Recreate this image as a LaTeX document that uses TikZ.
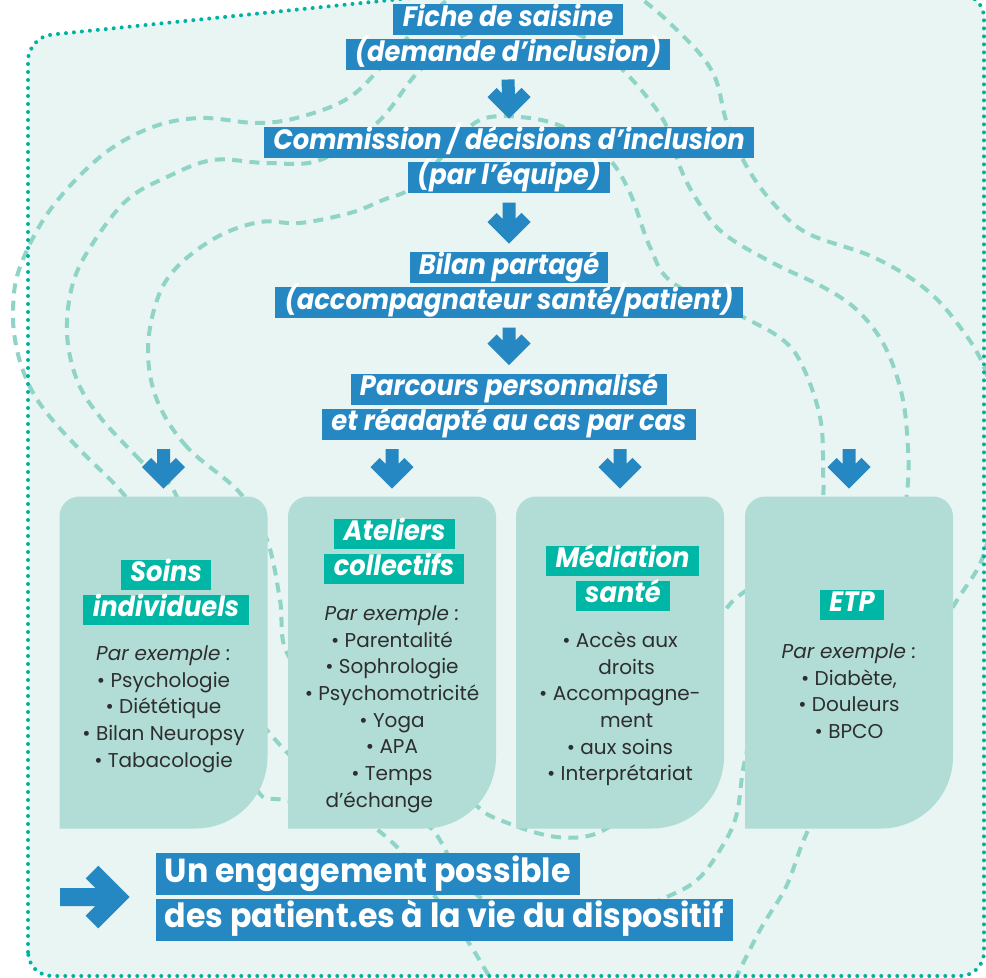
\documentclass[tikz,border=0pt]{standalone}
\usepackage{fontspec}
\setmainfont{Poppins}
\newfontfamily\labelfont[FakeStretch=0.92]{Poppins}
\newfontfamily\bannerfont[FakeStretch=0.95]{Poppins}
\usetikzlibrary{calc}

\definecolor{mintbg}{RGB}{232,245,242}
\definecolor{dotborder}{RGB}{0,178,160}
\definecolor{contourline}{RGB}{143,212,198}
\definecolor{boxfill}{RGB}{177,221,214}
\definecolor{labelblue}{RGB}{37,136,195}
\definecolor{titleteal}{RGB}{0,182,165}
\definecolor{bodytext}{RGB}{46,46,46}

\tikzset{every picture/.style={line width=0.75pt}}
\tikzset{
  bluelabel/.style={fill=labelblue, text=white, inner xsep=7pt, inner ysep=0pt,
    text height=15pt, text depth=5pt, minimum height=23.25pt,
    font=\labelfont\bfseries\itshape\fontsize{21}{21}\selectfont},
  tealtitle/.style={bluelabel, fill=titleteal, minimum height=22.5pt},
  cardarea/.style={inner sep=0pt, minimum width=155.25pt, minimum height=248.25pt},
  itemlist/.style={text=bodytext, align=center, font=\fontsize{15}{20}\selectfont},
  % shaft + chevron, target = node edge below
  downarrow/.style={draw=labelblue, line width=9.75pt, line join=miter, to path={
    ($(\tikztostart)+(0,9)$) -- ($(\tikztotarget)+(0,-17)$)
    ($(\tikztotarget)+(-17,-34)$) -- ($(\tikztotarget)+(0,-17)$) -- ($(\tikztotarget)+(17,-34)$)}},
  rightarrow/.style={draw=labelblue, line width=13.5pt, line join=miter, to path={
    (\tikztostart) -- ($(\tikztotarget)+(-38,0)$)
    ($(\tikztotarget)+(-63,-25)$) -- ($(\tikztotarget)+(-38,0)$) -- ($(\tikztotarget)+(-63,25)$)}},
  bannerlabel/.style={fill=labelblue, text=white, anchor=west, inner xsep=7pt, inner ysep=0pt,
    text height=18pt, text depth=5.5pt, minimum height=31.5pt,
    font=\bannerfont\bfseries\fontsize{25}{25}\selectfont},
  contour/.style={contourline, line width=3pt, dash pattern=on 7.5pt off 5.5pt}
}

\begin{document}
\begin{tikzpicture}[x=0.75pt,y=0.75pt,yscale=-1,xscale=1]
  %page
  \fill[white] (0,0) rectangle (986,978);
  \useasboundingbox (0,0) rectangle (986,978);

  %Shape: background
  \fill[mintbg, rounded corners=18]
    (28,976) -- (28,37) -- (450,-6) -- (984,-6) -- (984,976) -- cycle;

  %Curves: dashed contours
  \draw[contour] plot[smooth, tension=0.6] coordinates {(497,990) (467,940) (430,890) (395,845) (340,800) (280,745) (240,690) (200,600) (150,530) (120,490) (83,453) (50,417) (30,387) (17,350) (13,310) (20,267) (50,210) (100,157) (150,128) (200,118) (257,123) (300,117) (350,97) (390,57) (430,15) (480,-20) (560,-35) (630,-8) (680,33) (713,73) (727,123) (747,167) (773,203) (807,233) (873,257) (923,287) (957,323) (985,370) (998,440) (986,547) (953,607) (900,700) (830,790) (805,837) (786,887) (760,930) (730,990)};
  \draw[contour] plot[smooth cycle, tension=0.6] coordinates {(177,497) (140,460) (100,417) (77,380) (67,333) (73,283) (93,243) (127,200) (167,177) (213,160) (267,163) (320,160) (377,123) (420,70) (470,32) (530,20) (590,40) (620,67) (647,97) (667,127) (680,167) (697,200) (723,233) (773,263) (823,287) (857,310) (883,343) (900,387) (907,433) (907,493) (890,580) (840,650) (765,700) (745,760) (737,813) (723,845) (697,880) (660,900) (600,925) (520,920) (460,880) (443,845) (420,822) (350,810) (283,800) (257,790) (230,720) (200,600)};
  \draw[contour] plot[smooth cycle, tension=0.6] coordinates {(240,493) (187,447) (157,400) (148,350) (157,300) (177,267) (217,237) (260,222) (300,223) (350,213) (383,200) (413,187) (450,148) (480,120) (520,117) (563,127) (607,157) (630,193) (650,247) (673,283) (743,317) (783,340) (803,367) (820,417) (823,467) (820,510) (790,565) (747,590) (723,613) (680,680) (640,790) (604,830) (557,837) (500,820) (473,803) (400,740) (330,700) (287,653) (280,600) (267,540)};

  %Shape: dotted border
  \draw[dotborder, line width=3pt, line cap=round, dash pattern=on 0pt off 6pt, rounded corners=18]
    (28,976) -- (28,37) -- (450,-6) -- (984,-6) -- (984,976) -- cycle;

  %Shapes: cards
  \node[cardarea] (soins) at (163.5,662.5) {};
  \node[cardarea] (ateliers) at (392,662.5) {};
  \node[cardarea] (mediation) at (620,662.5) {};
  \node[cardarea] (etp) at (849,662.5) {};
  \foreach \card in {soins,ateliers,mediation,etp}
    \fill[boxfill] (\card.south west) -- ($(\card.north west)+(0,20)$)
      arc[start angle=180, end angle=270, radius=20] -- ($(\card.north east)+(-20,0)$)
      arc[start angle=270, end angle=360, radius=20] -- ($(\card.south east)+(0,-72)$)
      arc[start angle=0, end angle=90, radius=72] -- cycle;

  % Text Node
  \node[bluelabel] (fiche1) at (508,19.5) {Fiche de saisine};
  \node[bluelabel] (fiche2) at (508,54.5) {(demande d’inclusion)};
  \node[bluelabel] (comm1) at (509,142.5) {Commission / décisions d’inclusion};
  \node[bluelabel] (comm2) at (509,177.5) {(par l’équipe)};
  \node[bluelabel] (bilan1) at (509,267.5) {Bilan partagé};
  \node[bluelabel] (bilan2) at (509,302.5) {(accompagnateur santé/patient)};
  \node[bluelabel] (parc1) at (509,389) {Parcours personnalisé};
  \node[bluelabel] (parc2) at (509,424) {et réadapté au cas par cas};

  %Arrows
  \draw[downarrow] (fiche2.south) to (comm1.north);
  \draw[downarrow] (comm2.south) to (bilan1.north);
  \draw[downarrow] (bilan2.south) to (parc1.north);
  \foreach \card in {soins,ateliers,mediation,etp}
    \draw[downarrow] (\card.north |- parc2.south) to (\card.north);

  % Text Node
  \node[tealtitle] (soinsA) at (166,574.5) {Soins};
  \node[tealtitle] (soinsB) at (166,609.5) {individuels};
  \node[tealtitle] (ateliersA) at (394.5,534) {Ateliers};
  \node[tealtitle] (ateliersB) at (394,569) {collectifs};
  \node[tealtitle] (mediationA) at (622.5,561) {Médiation};
  \node[tealtitle] (mediationB) at (623,596) {santé};
  \node[tealtitle] (etpA) at (852,605) {ETP};

  % Text Node
  \node[itemlist] (soinsL) at (163.5,709) {\textit{Par exemple :}\\• Psychologie\\• Diététique\\• Bilan Neuropsy\\• Tabacologie};
  \node[itemlist] (ateliersL) at (392,709) {\textit{Par exemple :}\\• Parentalité\\• Sophrologie\\• Psychomotricité\\• Yoga\\• APA\\• Temps\\d’échange\hspace*{19pt}};
  \node[itemlist] (mediationL) at (620,709) {• Accès aux\\\hspace*{10pt}droits\\• Accompagne-\\\hspace*{10pt}ment\\• aux soins\\• Interprétariat};
  \node[itemlist] (etpL) at (849,691) {\textit{Par exemple :}\\• Diabète,\\• Douleurs\\• BPCO};

  % Text Node
  \node[bannerlabel] (engage1) at (155,874) {Un engagement possible};
  \node[bannerlabel] (engage2) at (155,919.5) {des patient.es à la vie du dispositif};
  \coordinate (engstart) at (60,897);
  \draw[rightarrow] (engstart) to (engstart -| engage2.west);
\end{tikzpicture}
\end{document}
